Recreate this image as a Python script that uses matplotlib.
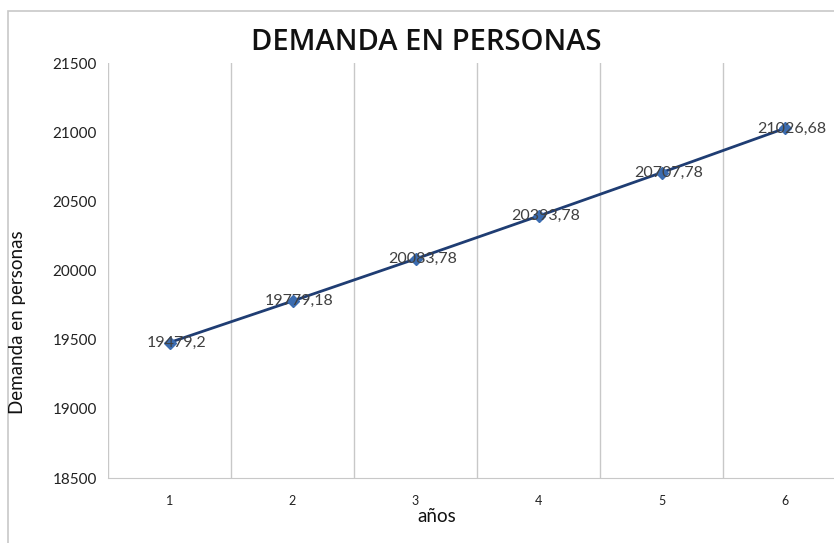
import matplotlib
matplotlib.use("Agg")
import matplotlib.pyplot as plt
from matplotlib.patches import Rectangle

# datos
anios = [1, 2, 3, 4, 5, 6]
demanda = [19479.2, 19779.18, 20083.78, 20393.78, 20707.78, 21026.68]
y_ticks = [18500, 19000, 19500, 20000, 20500, 21000, 21500]

plt.rcParams['font.family'] = ['Lato', 'DejaVu Sans']

fig = plt.figure(figsize=(8.34, 5.43), dpi=100)
ax = fig.add_axes([108 / 834, 1 - 478 / 543, 738 / 834, 415 / 543])

# marco del grafico
fig.patches.append(Rectangle((8 / 834, -0.05), 1.0, 1 - 11 / 543 + 0.05,
                             transform=fig.transFigure, fill=False,
                             edgecolor='#c8c8c8', linewidth=1.2))

ax.plot(anios, demanda, color='#1f3d73', linewidth=2, zorder=3)
ax.plot(anios, demanda, linestyle='none', marker='D', markersize=6,
        color='#3b6cb0', zorder=4)

for x, y in zip(anios, demanda):
    txt = ('%.2f' % y).rstrip('0').rstrip('.').replace('.', ',')
    ax.annotate(txt, (x, y), xytext=(5, 0), textcoords='offset points',
                ha='center', va='center', fontsize=11.5, color='#404040', zorder=5)

ax.set_xlim(0.5, 6.5)
ax.set_ylim(18500, 21500)
ax.set_yticks(y_ticks)
ax.set_xticks(anios)
ax.set_xticks([0.5, 1.5, 2.5, 3.5, 4.5, 5.5, 6.5], minor=True)
ax.grid(True, which='minor', axis='x', color='#c8c8c8', linewidth=1)
ax.tick_params(axis='both', which='both', length=0)
ax.tick_params(axis='y', labelsize=11, colors='#222222', pad=8)
ax.tick_params(axis='x', labelsize=9, colors='#222222', pad=12)

for s in ['top', 'right', 'left']:
    ax.spines[s].set_visible(False)
ax.spines['bottom'].set_color('#c8c8c8')

fig.text(426 / 834, 1 - 42 / 543, 'DEMANDA EN PERSONAS', ha='center', va='center',
         fontsize=21, fontweight='semibold', color='#111111', fontfamily='Open Sans')
fig.text(18 / 834, 1 - 322 / 543, 'Demanda en personas', rotation=90,
         ha='center', va='center', fontsize=13.5, color='#111111')
fig.text(437 / 834, 1 - 517 / 543, 'años', ha='center', va='center',
         fontsize=13.5, color='#111111')

fig.savefig('out.png', dpi=100)
